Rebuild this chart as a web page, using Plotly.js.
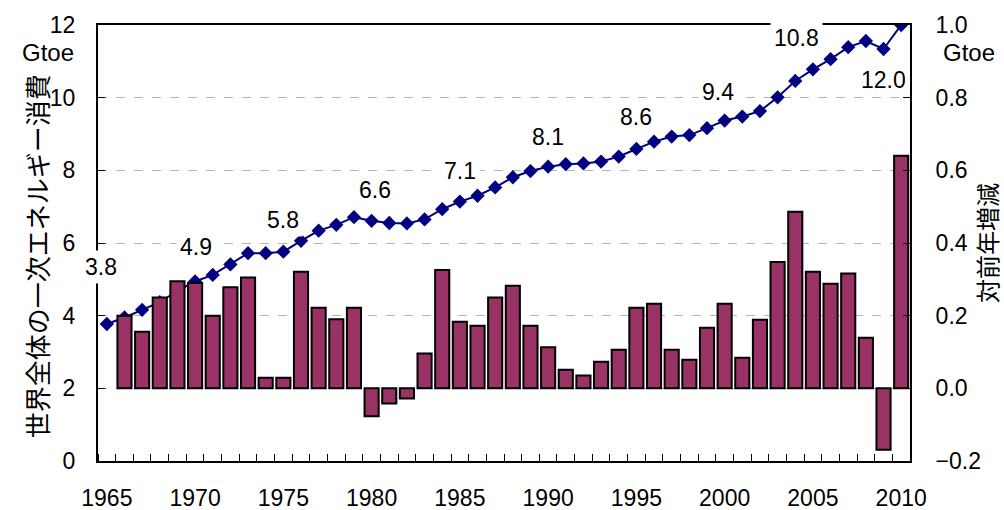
<!DOCTYPE html>
<html>
<head>
<meta charset="utf-8">
<script src="https://cdn.plot.ly/plotly-3.0.1.min.js"></script>
<style>html,body{margin:0;padding:0;background:#fff;}#chart{width:1004px;height:510px;}</style>
</head>
<body>
<div id="chart"></div>
<script>
// ---- data ----
const years = [1965,1966,1967,1968,1969,1970,1971,1972,1973,1974,1975,1976,1977,1978,1979,
  1980,1981,1982,1983,1984,1985,1986,1987,1988,1989,1990,1991,1992,1993,1994,1995,1996,1997,
  1998,1999,2000,2001,2002,2003,2004,2005,2006,2007,2008,2009,2010];
const consumption = [3.77,3.95,4.16,4.37,4.68,4.94,5.12,5.41,5.72,5.72,5.76,6.06,6.34,6.50,6.71,
  6.61,6.55,6.54,6.65,6.93,7.14,7.30,7.53,7.81,7.98,8.10,8.17,8.19,8.24,8.38,8.59,8.79,8.93,
  8.97,9.16,9.37,9.48,9.63,10.01,10.46,10.78,11.06,11.39,11.56,11.34,12.0];
const changeYears = years.slice(1);
const change = [0.20,0.156,0.25,0.295,0.29,0.20,0.278,0.305,0.029,0.029,0.321,0.222,0.19,0.222,
  -0.077,-0.042,-0.028,0.096,0.326,0.183,0.172,0.25,0.282,0.172,0.113,0.051,0.035,0.073,0.106,
  0.222,0.233,0.106,0.079,0.167,0.233,0.084,0.189,0.348,0.486,0.321,0.288,0.316,0.139,-0.169,0.64];
const labelYears = [1965,1970,1975,1980,1985,1990,1995,2000,2005,2010];
const xTickYears = [1965,1970,1975,1980,1985,1990,1995,2000,2005,2010];
const leftTitle = '世界全体の一次エネルギー消費';
const rightTitle = '対前年増減';
const unit = 'Gtoe';

// ---- styles ----
const NUMFONT = '"Liberation Sans", Arial, sans-serif';
const JPFONT = '"Noto Sans CJK JP", sans-serif';
const labelShift = {1965:[-6,57],1970:[1,35],1975:[0,32],1980:[3,31],1985:[0,31],1990:[0,30],
  1995:[0,32],2000:[-7,29],2005:[-16,31],2010:[-18,-55]};

const traces = [
  {type:'bar', x:changeYears, y:change, yaxis:'y2', width:0.8,
   marker:{color:'#993366', line:{color:'#000', width:2}}, hoverinfo:'x+y'},
  {type:'scatter', mode:'lines+markers', x:years, y:consumption, yaxis:'y',
   line:{color:'#000080', width:2}, marker:{symbol:'diamond', size:11, color:'#000080'}}
];

const annotations = labelYears.map(yr => {
  const v = consumption[years.indexOf(yr)];
  const s = labelShift[yr];
  return {x:yr, y:v, xref:'x', yref:'y', text:v.toFixed(1), showarrow:false,
    xshift:s[0], yshift:s[1], bgcolor:'#fff', borderpad:3,
    font:{family:NUMFONT, size:23, color:'#000'}};
});
annotations.push({xref:'paper', yref:'paper', x:-0.027, y:0.938, xanchor:'right', yanchor:'middle',
  text:unit, showarrow:false, font:{family:NUMFONT, size:24, color:'#000'}});
annotations.push({xref:'paper', yref:'paper', x:1.038, y:0.938, xanchor:'left', yanchor:'middle',
  text:unit, showarrow:false, font:{family:NUMFONT, size:24, color:'#000'}});
annotations.push({xref:'paper', yref:'paper', x:-0.076, y:0.47, xanchor:'center', yanchor:'middle',
  textangle:-90, text:leftTitle, showarrow:false, font:{family:JPFONT, size:26, color:'#000'}});

const layout = {
  width:1004, height:510,
  margin:{l:98, r:94, t:25, b:49},
  paper_bgcolor:'#fff', plot_bgcolor:'#fff',
  showlegend:false,
  font:{family:NUMFONT, size:23, color:'#000'},
  xaxis:{range:[1964.5,2010.5], tickmode:'array', tickvals:xTickYears, ticktext:xTickYears.map(String),
    ticks:'', showgrid:false, zeroline:false, showline:true, linecolor:'#000', linewidth:2, mirror:true,
    ticklabelstandoff:15,
    minor:{ticks:'inside', tick0:1964.5, dtick:1, ticklen:7, tickcolor:'#000', tickwidth:1, showgrid:false}},
  yaxis:{range:[0,12], dtick:2, tick0:0, ticks:'inside', ticklen:7, tickcolor:'#000', tickwidth:1,
    showline:true, linecolor:'#000', linewidth:2, zeroline:false,
    showgrid:true, gridcolor:'#b4b4b4', griddash:'dash', gridwidth:1, ticklabelstandoff:16},
  yaxis2:{range:[-0.2,1.0], dtick:0.2, tick0:0, tickformat:'.1f', overlaying:'y', side:'right',
    ticks:'inside', ticklen:7, tickcolor:'#000', tickwidth:1,
    showline:true, linecolor:'#000', linewidth:2, zeroline:false, showgrid:false, ticklabelstandoff:19,
    title:{text:rightTitle, font:{family:JPFONT, size:24}, standoff:6}},
  annotations:annotations
};

Plotly.newPlot('chart', traces, layout, {staticPlot:true});
</script>
</body>
</html>
